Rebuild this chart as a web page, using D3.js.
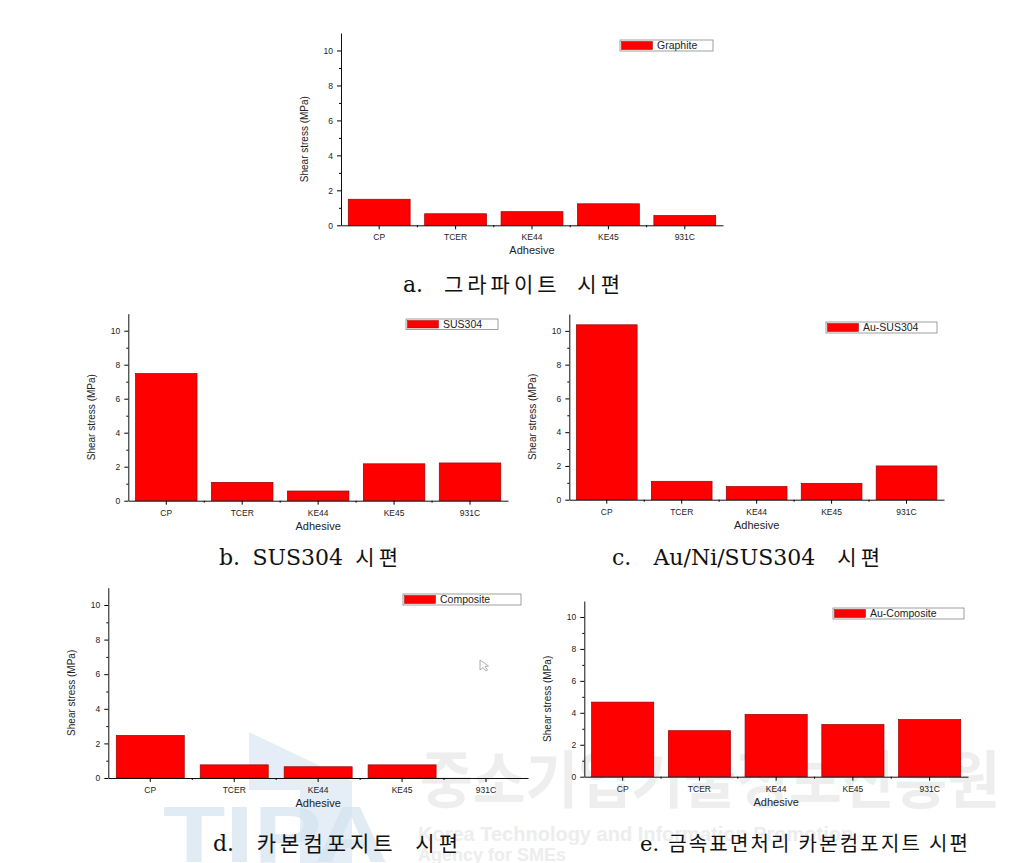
<!DOCTYPE html>
<html lang="ko">
<head>
<meta charset="UTF-8">
<title>Shear stress by adhesive</title>
<style>
  body { margin: 0; background: #fff; }
  svg { display: block; }
  .tick text { font-family: "Liberation Sans", Arial, sans-serif; }
</style>
</head>
<body>
<svg width="1021" height="863"></svg>
<script src="https://cdn.jsdelivr.net/npm/d3@7"></script>
<script>
// data
const adhesives = ["CP", "TCER", "KE44", "KE45", "931C"];
const graphite = [1.49, 0.66, 0.78, 1.23, 0.56];
const sus304 = [7.48, 1.08, 0.57, 2.17, 2.22];
const auSus304 = [10.36, 1.09, 0.78, 0.97, 2.0];
const composite = [2.46, 0.76, 0.65, 0.76, 0];
const auComposite = [4.67, 2.88, 3.9, 3.27, 3.58];
const yMajor = [0, 2, 4, 6, 8, 10];
const yMinor = [1, 3, 5, 7, 9];

// panel frames (pixel boxes), kept apart from the values
const panels = [
  { values: graphite, name: "Graphite", x0: 341, x1: 723, y0: 225.3, yTop: 33, leg: [620, 40, 713, 51],
    caption: "a. 그라파이트 시편", cl: 403, cr: 620, cy: 292, fs: 21, ls: 4 },
  { values: sus304, name: "SUS304", x0: 128.3, x1: 508, y0: 500.7, yTop: 313.7, leg: [406, 319, 498, 329.5],
    caption: "b. SUS304 시편", cl: 219, cr: 398, cy: 565, fs: 21, ls: 4 },
  { values: auSus304, name: "Au-SUS304", x0: 569.3, x1: 944, y0: 499.7, yTop: 314, leg: [826, 322, 937, 333],
    caption: "c. Au/Ni/SUS304 시편", cl: 612, cr: 880, cy: 565, fs: 21, ls: 4 },
  { values: composite, name: "Composite", x0: 108.3, x1: 528, y0: 778, yTop: 587.7, leg: [403, 594, 521, 605],
    caption: "d. 카본컴포지트 시편", cl: 213, cr: 458, cy: 851, fs: 21, ls: 4 },
  { values: auComposite, name: "Au-Composite", x0: 584.3, x1: 968, y0: 776.7, yTop: 601, leg: [833, 608, 964, 619],
    caption: "e. 금속표면처리 카본컴포지트 시편", cl: 640, cr: 968, cy: 851, fs: 20, ls: 2.2 }
];

const svg = d3.select("svg");
const sans = "'Liberation Sans', Arial, sans-serif";

// faint watermark, drawn first so the charts' texts stay readable
const wm = svg.append("g").attr("pointer-events", "none");
wm.append("path")
  .attr("d", "M249,732 L352,781 L352,863 L300,863 L300,790 L249,790 Z")
  .attr("fill", "#d3e3f0").attr("opacity", 0.6);
wm.append("text")
  .attr("x", 163).attr("y", 862)
  .style("font-family", sans).style("font-weight", "bold")
  .style("font-size", "80px").attr("fill", "#d3e3f0").attr("opacity", 0.7)
  .attr("textLength", 225).attr("lengthAdjust", "spacingAndGlyphs")
  .text("TIPA");
wm.append("text")
  .attr("x", 420).attr("y", 803)
  .style("font-family", "'Noto Sans CJK KR', sans-serif").style("font-weight", "bold")
  .style("font-size", "62px").attr("fill", "#e4e4e4").attr("opacity", 0.6)
  .attr("textLength", 580).attr("lengthAdjust", "spacingAndGlyphs")
  .text("중소기업기술정보진흥원");
wm.append("text")
  .attr("x", 418).attr("y", 841)
  .style("font-family", sans).style("font-weight", "bold")
  .style("font-size", "20px").attr("fill", "#e2e2e2").attr("opacity", 0.6)
  .text("Korea Technology and Information Promotion");
wm.append("text")
  .attr("x", 418).attr("y", 861)
  .style("font-family", sans).style("font-weight", "bold")
  .style("font-size", "18px").attr("fill", "#e2e2e2").attr("opacity", 0.6)
  .text("Agency for SMEs");

panels.forEach(p => {
  const g = svg.append("g");

  const x = d3.scaleBand().domain(adhesives).range([p.x0, p.x1])
    .paddingInner(0.19).paddingOuter(0.095);
  const y = d3.scaleLinear().domain([0, 11]).range([p.y0, p.yTop]);

  // bars
  g.selectAll("rect.bar")
    .data(p.values)
    .enter().append("rect")
    .attr("class", "bar")
    .attr("x", (d, i) => x(adhesives[i]))
    .attr("width", x.bandwidth())
    .attr("y", d => y(d))
    .attr("height", d => y(0) - y(d))
    .attr("fill", "#ff0000")
    .attr("stroke", "#9a0000")
    .attr("stroke-width", d => d > 0 ? 0.7 : 0);

  // y axis: major + minor ticks
  const yAxis = g.append("g").attr("transform", `translate(${p.x0},0)`)
    .call(d3.axisLeft(y).tickValues(yMajor).tickSize(4).tickPadding(4).tickSizeOuter(0));
  yAxis.selectAll("text").style("font-size", "8.5px").attr("fill", "#222");
  g.append("g").attr("transform", `translate(${p.x0},0)`)
    .call(d3.axisLeft(y).tickValues(yMinor).tickSize(2).tickFormat("").tickSizeOuter(0))
    .select(".domain").remove();

  // x axis: ticks at centres, small ones at the slot boundaries
  const xAxis = g.append("g").attr("transform", `translate(0,${p.y0})`)
    .call(d3.axisBottom(x).tickSize(4).tickPadding(5).tickSizeOuter(0));
  xAxis.selectAll("text").style("font-size", "8.5px").attr("fill", "#222");
  const step = x.step();
  g.append("g").selectAll("line")
    .data(adhesives.slice(1))
    .enter().append("line")
    .attr("x1", d => x(d) - step * 0.095)
    .attr("x2", d => x(d) - step * 0.095)
    .attr("y1", p.y0).attr("y2", p.y0 + 2)
    .attr("stroke", "#000");

  g.selectAll(".domain").attr("stroke", "#111");

  // axis titles
  g.append("text")
    .attr("x", (p.x0 + p.x1) / 2).attr("y", p.y0 + 29)
    .attr("text-anchor", "middle")
    .style("font-family", sans).style("font-size", "11px").attr("fill", "#222")
    .text("Adhesive");
  g.append("text")
    .attr("transform", `translate(${p.x0 - 33},${(p.y0 + p.yTop) / 2 + 10}) rotate(-90)`)
    .attr("text-anchor", "middle")
    .style("font-family", sans).style("font-size", "10px").attr("fill", "#222")
    .text("Shear stress (MPa)");

  // legend
  const [lx0, ly0, lx1, ly1] = p.leg;
  g.append("rect")
    .attr("x", lx0).attr("y", ly0).attr("width", lx1 - lx0).attr("height", ly1 - ly0)
    .attr("fill", "#fff").attr("stroke", "#888").attr("stroke-width", 0.8);
  g.append("rect")
    .attr("x", lx0 + 1.5).attr("y", ly0 + 1.5).attr("width", 31).attr("height", ly1 - ly0 - 3)
    .attr("fill", "#ff0000").attr("stroke", "#9a0000").attr("stroke-width", 0.5);
  g.append("text")
    .attr("x", lx0 + 37).attr("y", (ly0 + ly1) / 2 + 3.8)
    .style("font-family", sans).style("font-size", "10.5px").attr("fill", "#222")
    .text(p.name);

  // caption: words chained left to right, gaps chosen to fill the original width
  const words = p.caption.split(" ");
  const isLatin = t => /^[A-Za-z0-9.\/]+$/.test(t);
  const nodes = words.map(t => svg.append("text")
    .attr("y", p.cy)
    .style("font-family", isLatin(t) ? "'DejaVu Serif', 'Liberation Serif', serif" : "'Noto Sans CJK KR', sans-serif")
    .style("font-size", isLatin(t) ? (p.fs + 1) + "px" : p.fs + "px")
    .style("letter-spacing", isLatin(t) ? "0px" : p.ls + "px")
    .attr("fill", "#111")
    .text(t));
  const widths = nodes.map((n, i) => {
    const w = n.node().getComputedTextLength();
    return isLatin(words[i]) ? w : w - p.ls;
  });
  const gap = (p.cr - p.cl - d3.sum(widths)) / (words.length - 1);
  let cx = p.cl;
  nodes.forEach((n, i) => { n.attr("x", cx); cx += widths[i] + gap; });
});

// mouse cursor left in panel d
svg.append("path")
  .attr("d", "M480,660 L480,670 L483,667.5 L486,671 L487.5,670 L485,666.5 L488.5,666 Z")
  .attr("fill", "#fff").attr("stroke", "#999").attr("stroke-width", 0.8);
</script>
</body>
</html>
